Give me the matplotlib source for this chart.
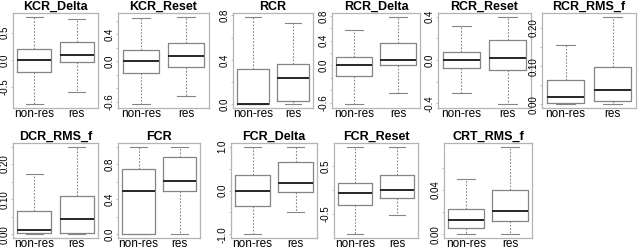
import numpy as np
import matplotlib
matplotlib.use("Agg")
import matplotlib.pyplot as plt

plt.rcParams['font.family'] = ['Liberation Sans', 'DejaVu Sans']

# panel titles
titles = ["KCR_Delta", "KCR_Reset", "RCR", "RCR_Delta", "RCR_Reset", "RCR_RMS_f",
          "DCR_RMS_f", "FCR", "FCR_Delta", "FCR_Reset", "CRT_RMS_f"]
groups = ["non-res", "res"]

# box statistics (lower whisker, Q1, median, Q3, upper whisker)
lo_nonres = [-0.82, -0.64, 0.00, -0.63, -0.30, 0.000, 0.000, 0.00, -1.00, -0.92, 0.0000]
q1_nonres = [-0.22, -0.17, 0.00, -0.17, -0.07, 0.004, 0.003, 0.00, -0.35, -0.31, 0.0054]
md_nonres = [0.00, 0.00, 0.00, 0.00, 0.00, 0.020, 0.0125, 0.49, 0.00, -0.06, 0.0126]
q3_nonres = [0.20, 0.16, 0.32, 0.14, 0.07, 0.064, 0.068, 0.74, 0.35, 0.15, 0.0230]
hi_nonres = [0.80, 0.64, 0.79, 0.58, 0.31, 0.156, 0.171, 1.00, 1.00, 0.90, 0.0500]

lo_res = [-0.59, -0.51, 0.00, -0.44, -0.41, 0.000, 0.000, 0.00, -0.50, -0.52, 0.0000]
q1_res = [-0.04, -0.09, 0.03, 0.00, -0.09, 0.009, 0.003, 0.49, -0.03, -0.17, 0.0117]
md_res = [0.10, 0.07, 0.235, 0.09, 0.02, 0.038, 0.043, 0.61, 0.17, 0.00, 0.0210]
q3_res = [0.33, 0.27, 0.36, 0.36, 0.18, 0.098, 0.110, 0.88, 0.65, 0.31, 0.0396]
hi_res = [0.75, 0.66, 0.73, 0.79, 0.40, 0.230, 0.250, 1.00, 1.00, 0.90, 0.0790]

# y ticks and the labels that are shown (R drops overlapping ones)
y_ticks = [
    [-0.5, 0.0, 0.5],
    [-0.6, -0.4, -0.2, 0.0, 0.2, 0.4, 0.6],
    [0.0, 0.2, 0.4, 0.6, 0.8],
    [-0.6, -0.4, -0.2, 0.0, 0.2, 0.4, 0.6, 0.8],
    [-0.4, -0.2, 0.0, 0.2, 0.4],
    [0.0, 0.05, 0.10, 0.15, 0.20],
    [0.0, 0.05, 0.10, 0.15, 0.20, 0.25],
    [0.0, 0.2, 0.4, 0.6, 0.8, 1.0],
    [-1.0, -0.5, 0.0, 0.5, 1.0],
    [-0.5, 0.0, 0.5],
    [0.0, 0.02, 0.04, 0.06],
]
y_labels = [
    ["-0.5", "0.0", "0.5"],
    ["-0.6", "", "", "0.0", "", "0.4", ""],
    ["0.0", "", "0.4", "", "0.8"],
    ["-0.6", "", "", "0.0", "", "0.4", "", "0.8"],
    ["-0.4", "", "0.0", "", "0.4"],
    ["0.00", "", "0.10", "", "0.20"],
    ["0.00", "", "0.10", "", "0.20", ""],
    ["0.0", "", "0.4", "", "0.8", ""],
    ["-1.0", "", "0.0", "", "1.0"],
    ["-0.5", "", "0.5"],
    ["0.00", "", "0.04", ""],
]

# frame positions in pixels (left, right) for each panel; rows share top/bottom
frames_x = [(13, 98), (118, 209), (233, 313), (332, 420), (438, 531), (542, 636),
            (13, 98), (118, 200), (231, 317), (334, 418), (444, 532)]
rows_y = [(13, 108), (143, 238)]

W, H = 640, 247
fig = plt.figure(figsize=(W / 100, H / 100), dpi=100)

frame_col = "#b4b4b4"
box_col = "#858585"
med_col = "#262626"

for i, title in enumerate(titles):
    x0, x1 = frames_x[i]
    y0, y1 = rows_y[0] if i < 6 else rows_y[1]
    ax = fig.add_axes([x0 / W, 1 - y1 / H, (x1 - x0) / W, (y1 - y0) / H])

    stats = [
        dict(whislo=lo_nonres[i], q1=q1_nonres[i], med=md_nonres[i], q3=q3_nonres[i],
             whishi=hi_nonres[i], fliers=[]),
        dict(whislo=lo_res[i], q1=q1_res[i], med=md_res[i], q3=q3_res[i],
             whishi=hi_res[i], fliers=[]),
    ]
    ax.bxp(stats, positions=[1, 2], widths=0.8, showfliers=False,
           boxprops=dict(color=box_col, linewidth=0.9),
           medianprops=dict(color=med_col, linewidth=1.4),
           whiskerprops=dict(color=box_col, linewidth=0.8, linestyle=(0, (1.5, 1.5))),
           capprops=dict(color=box_col, linewidth=0.8),
           capwidths=0.4)

    lo = min(lo_nonres[i], lo_res[i])
    hi = max(hi_nonres[i], hi_res[i])
    pad = 0.04 * (hi - lo)
    ax.set_ylim(lo - pad, hi + pad)
    ax.set_xlim(0.5, 2.5)

    ax.set_yticks(y_ticks[i])
    ax.set_yticklabels(y_labels[i], rotation=90, va="center", fontsize=7)
    ax.set_xticks([1, 2])
    ax.set_xticklabels(groups, fontsize=8.5)
    ax.tick_params(axis="y", length=1.5, width=0.6, color=frame_col, pad=1)
    ax.tick_params(axis="x", length=0, pad=0.3)
    for s in ax.spines.values():
        s.set_color(frame_col)
        s.set_linewidth(0.9)
    ax.set_title(title, fontsize=9, fontweight="bold", pad=1.5)

fig.savefig("out.png", dpi=100)
